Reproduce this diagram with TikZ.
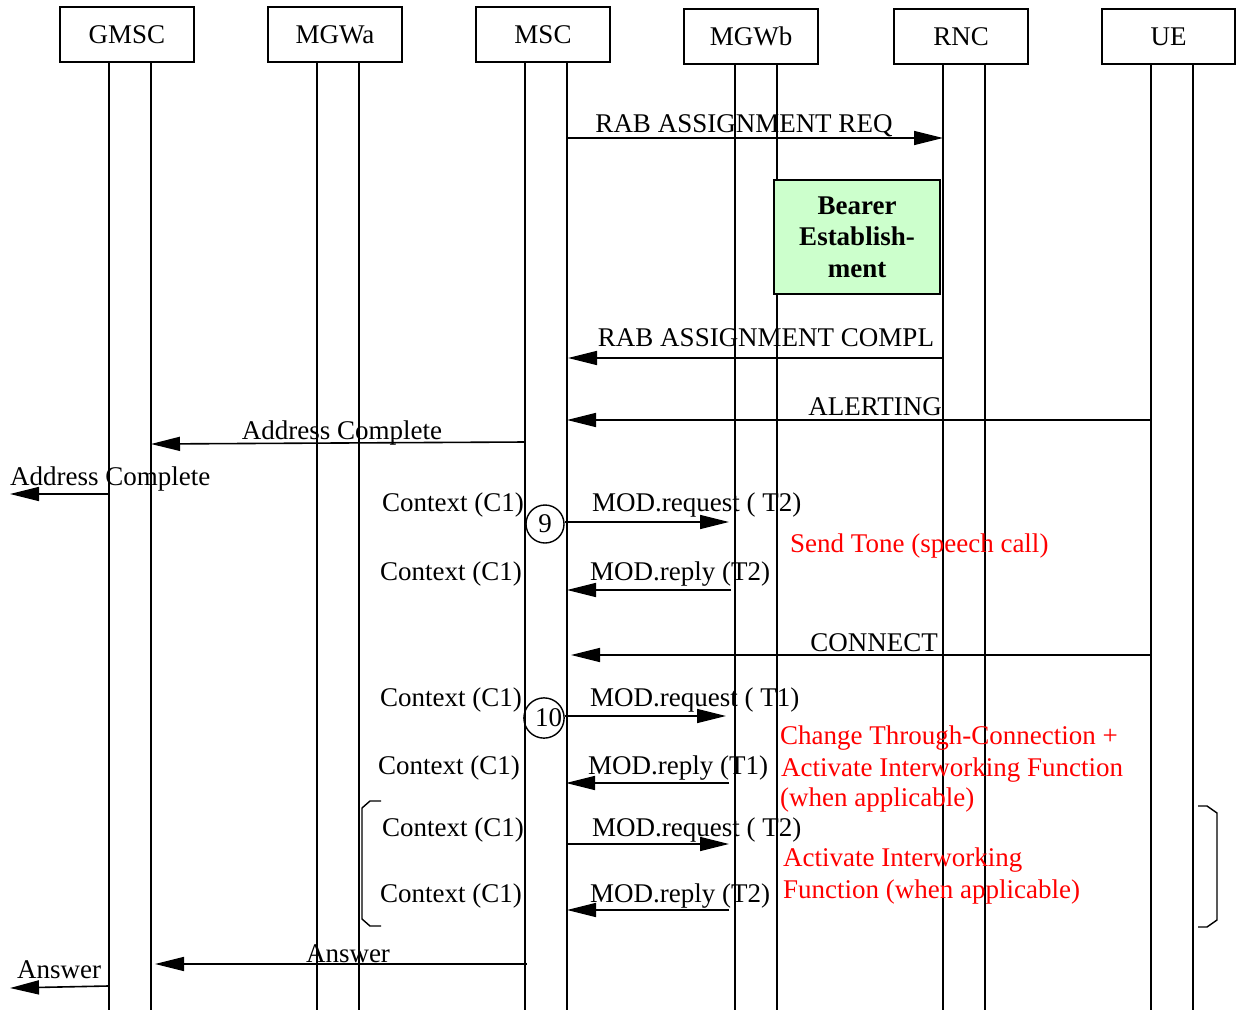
\documentclass[tikz,border=0pt]{standalone}
\usepackage{fontspec}
\setmainfont{Liberation Serif}
\usetikzlibrary{arrows.meta}
\definecolor{bearergreen}{HTML}{CCFFCC}
\begin{document}
\begin{tikzpicture}[x=1pt,y=-1pt,
  font=\fontsize{27}{31.5}\selectfont,
  ent/.style={draw,line width=1.3pt,minimum width=134pt,minimum height=55pt,inner sep=0},
  life/.style={line width=1.2pt},
  msg/.style={line width=1.6pt,-{Triangle[length=29pt,width=14pt]}},
  lbl/.style={inner sep=0},
  note/.style={inner sep=0,text=red},
  seq/.style={circle,draw,line width=1.4pt,minimum size=38pt,inner sep=0},
  brk/.style={line width=1.4pt}]
\useasboundingbox (0,0) rectangle (1236,1010);

% entities
\node[ent] (GMSC) at (127,34.5) {GMSC};
\node[ent] (MGWa) at (335,34.5) {MGWa};
\node[ent] (MSC)  at (543,34.5) {MSC};
\node[ent] (MGWb) at (751,36.5) {MGWb};
\node[ent] (RNC)  at (961,36.5) {RNC};
\node[ent,minimum width=133pt] (UE) at (1168.5,36.5) {UE};

% lifelines
\foreach \n/\x/\y in {g1/109/62,g2/151/62,a1/317/62,a2/359/62,m1/525/62,m2/567/62,
                      b1/735/64,b2/777/64,r1/943/64,r2/985/64,u1/1151/64,u2/1193/64}{
  \coordinate (\n t) at (\x,\y);
  \coordinate (\n b) at (\x,1010);
  \draw[life] (\n t) -- (\n b);
}

% RAB ASSIGNMENT REQ
\coordinate (s1) at (567,138); \coordinate (e1) at (943,138);
\draw[msg] (s1) -- (e1);
\node[lbl,anchor=base] (t1) at (744,132) {RAB ASSIGNMENT REQ};

% Bearer establishment
\node[draw,line width=1.3pt,fill=bearergreen,minimum width=166pt,minimum height=114pt,
      align=center,font=\fontsize{27}{31.5}\selectfont\bfseries] (bearer) at (857,237)
      {Bearer\\Establish-\\ment};

% RAB ASSIGNMENT COMPL
\coordinate (s2) at (943,358); \coordinate (e2) at (568,358);
\draw[msg] (s2) -- (e2);
\node[lbl,anchor=base] (t2) at (766,346) {RAB ASSIGNMENT COMPL};

% ALERTING
\coordinate (s3) at (1151,420); \coordinate (e3) at (567,420);
\draw[msg] (s3) -- (e3);
\node[lbl,anchor=base east] (t3) at (942,415) {ALERTING};

% Address Complete
\coordinate (s4) at (525,442); \coordinate (e4) at (151,444);
\draw[msg] (s4) -- (e4);
\node[lbl,anchor=base] (t4) at (342,439) {Address Complete};

\coordinate (s5) at (108,494); \coordinate (e5) at (10,494);
\draw[msg] (s5) -- (e5);
\node[lbl,anchor=base west] (t5) at (10,485) {Address Complete};

% MOD.request (T2) - 9
\node[lbl,anchor=base east] (c1) at (524,511) {Context (C1)};
\node[seq] (n9) at (545,524) {9};
\coordinate (e6) at (729,522);
\draw[msg] (n9.east |- e6) -- (e6);
\node[lbl,anchor=base west] (t6) at (592,511) {MOD.request ( T2)};
\node[note,anchor=base west] (tone) at (790,552) {Send Tone (speech call)};

% MOD.reply (T2)
\node[lbl,anchor=base east] (c2) at (522,580) {Context (C1)};
\coordinate (s7) at (731,590); \coordinate (e7) at (567,590);
\draw[msg] (s7) -- (e7);
\node[lbl,anchor=base west] (t7) at (590,580) {MOD.reply (T2)};

% CONNECT
\coordinate (s8) at (1151,655); \coordinate (e8) at (571,655);
\draw[msg] (s8) -- (e8);
\node[lbl,anchor=base east] (t8) at (938,651) {CONNECT};

% MOD.request (T1) - 10
\node[lbl,anchor=base east] (c3) at (522,706) {Context (C1)};
\node[seq] (n10) at (544,718) {\hspace*{9pt}10};
\coordinate (e9) at (726,716);
\draw[msg] (n10.east |- e9) -- (e9);
\node[lbl,anchor=base west] (t9) at (590,706) {MOD.request ( T1)};
\node[note,anchor=base west] (r1a) at (780,744) {Change Through-Connection +};
\node[note,anchor=base west] (r1b) at (781,776) {Activate Interworking Function};
\node[note,anchor=base west] (r1c) at (780,806) {(when applicable)};

% MOD.reply (T1)
\node[lbl,anchor=base east] (c4) at (520,774) {Context (C1)};
\coordinate (s10) at (729,783); \coordinate (e10) at (566,783);
\draw[msg] (s10) -- (e10);
\node[lbl,anchor=base west] (t10) at (588,774) {MOD.reply (T1)};

% MOD.request (T2)
\node[lbl,anchor=base east] (c5) at (524,836) {Context (C1)};
\coordinate (s11) at (567,844); \coordinate (e11) at (729,844);
\draw[msg] (s11) -- (e11);
\node[lbl,anchor=base west] (t11) at (592,836) {MOD.request ( T2)};
\node[note,anchor=base west] (r2a) at (783,866) {Activate Interworking};
\node[note,anchor=base west] (r2b) at (783,898) {Function (when applicable)};

% MOD.reply (T2)
\node[lbl,anchor=base east] (c6) at (522,902) {Context (C1)};
\coordinate (s12) at (729,910); \coordinate (e12) at (567,910);
\draw[msg] (s12) -- (e12);
\node[lbl,anchor=base west] (t12) at (590,902) {MOD.reply (T2)};

% brackets
\draw[brk] (381,801) -- (370,801) -- (362,808) -- (362,919) -- (370,926) -- (381,926);
\draw[brk] (1198,806) -- (1207,806) -- (1217,813) -- (1217,920) -- (1207,927) -- (1198,927);

% Answer
\coordinate (s13) at (527,964); \coordinate (e13) at (155,964);
\draw[msg] (s13) -- (e13);
\node[lbl,anchor=base] (t13) at (348,962) {Answer};

\coordinate (s14) at (108,986); \coordinate (e14) at (10,988);
\draw[msg] (s14) -- (e14);
\node[lbl,anchor=base west] (t14) at (17,978) {Answer};
\end{tikzpicture}
\end{document}
